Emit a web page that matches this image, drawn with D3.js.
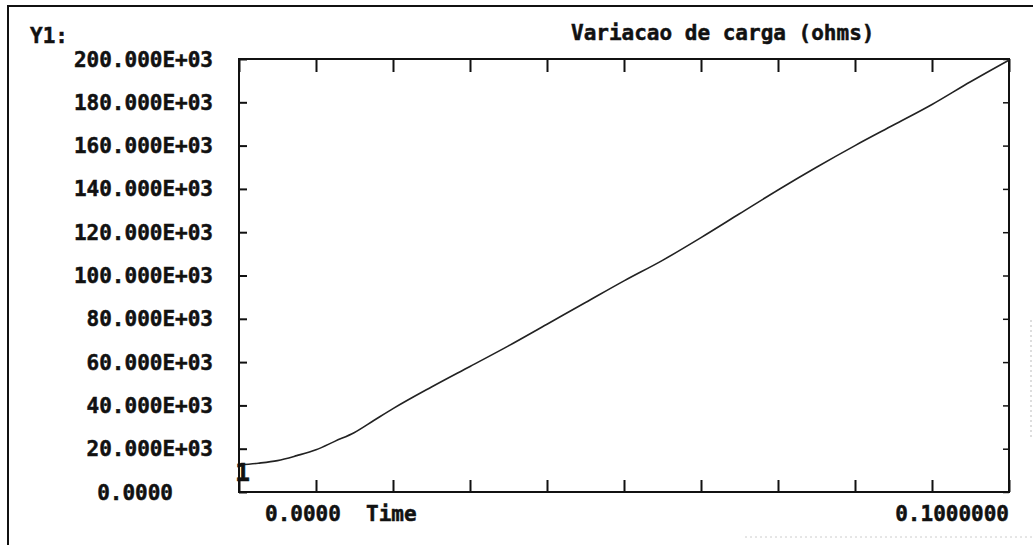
<!DOCTYPE html>
<html>
<head>
<meta charset="utf-8">
<script src="https://cdn.jsdelivr.net/npm/d3@7"></script>
<style>
  html, body { margin: 0; padding: 0; background: #fff; }
  svg { display: block; }
  text { font-family: "DejaVu Sans Mono", "Liberation Mono", monospace; font-weight: bold;
         fill: #111; stroke: #111; stroke-width: 0.5px; }
</style>
</head>
<body>
<svg id="chart" width="1033" height="545"></svg>
<script>
// Load resistance (ohms) against time (s)
const times = [0, 0.0025, 0.005, 0.0075, 0.01, 0.0125, 0.015, 0.0175, 0.02,
  0.025, 0.03, 0.035, 0.04, 0.045, 0.05, 0.055, 0.06, 0.065, 0.07, 0.075,
  0.08, 0.085, 0.09, 0.095, 0.1];
const ohms = [12500, 13300, 14500, 16800, 19500, 23500, 27500, 33000, 38500,
  48500, 58000, 67500, 77500, 87500, 97500, 107000, 117500, 128500, 139500, 150000,
  160000, 169500, 179000, 189500, 199500];

const yTicks = [0, 20000, 40000, 60000, 80000, 100000, 120000, 140000, 160000, 180000, 200000];
const yTickLabels = ["0.0000", "20.000E+03", "40.000E+03", "60.000E+03", "80.000E+03",
  "100.000E+03", "120.000E+03", "140.000E+03", "160.000E+03", "180.000E+03", "200.000E+03"];
const xTicks = [0, 0.01, 0.02, 0.03, 0.04, 0.05, 0.06, 0.07, 0.08, 0.09, 0.1];
const xEndLabels = ["0.0000", "0.1000000"];
const title = "Variacao de carga (ohms)";
const yName = "Y1:";
const xName = "Time";
const traceTag = "1";

const svg = d3.select("#chart");
const W = 1033, H = 545;
const plot = { left: 239, right: 1009, top: 59, bottom: 492 };

const x = d3.scaleLinear().domain([0, 0.1]).range([plot.left, plot.right]);
const y = d3.scaleLinear().domain([0, 200000]).range([plot.bottom, plot.top]);

// page frame (left and top edges)
svg.append("path")
  .attr("d", `M8,${H} L8,6 L${W},6`)
  .attr("fill", "none").attr("stroke", "#111").attr("stroke-width", 2);
// faint right/bottom edges
svg.append("line").attr("x1", 1031).attr("x2", 1031).attr("y1", 320).attr("y2", 440)
  .attr("stroke", "#bbb").attr("stroke-width", 1).attr("stroke-dasharray", "2,3");
svg.append("line").attr("x1", 745).attr("x2", W).attr("y1", 537).attr("y2", 537)
  .attr("stroke", "#ccc").attr("stroke-width", 1).attr("stroke-dasharray", "2,3");

// axes with inward ticks on all four sides
const axisStyle = g => {
  g.select(".domain").remove();
  g.selectAll(".tick line").attr("stroke", "#111").attr("stroke-width", 2);
  g.selectAll(".tick text").remove();
};
svg.append("g").attr("transform", `translate(0,${plot.top})`)
  .call(d3.axisBottom(x).tickValues(xTicks).tickSize(13)).call(axisStyle);
svg.append("g").attr("transform", `translate(0,${plot.bottom})`)
  .call(d3.axisTop(x).tickValues(xTicks).tickSize(12)).call(axisStyle);
svg.append("g").attr("transform", `translate(${plot.left},0)`)
  .call(d3.axisRight(y).tickValues(yTicks).tickSize(8)).call(axisStyle);
svg.append("g").attr("transform", `translate(${plot.right},0)`)
  .call(d3.axisLeft(y).tickValues(yTicks).tickSize(6)).call(axisStyle)
  .selectAll(".tick line").attr("stroke-width", 1.5);

// plot frame
svg.append("rect")
  .attr("x", plot.left).attr("y", plot.top)
  .attr("width", plot.right - plot.left).attr("height", plot.bottom - plot.top)
  .attr("fill", "none").attr("stroke", "#111").attr("stroke-width", 2);

// y tick labels
svg.append("g").selectAll("text").data(yTicks).join("text")
  .attr("x", d => d === 0 ? 173 : 213)
  .attr("y", d => y(d))
  .attr("dy", "0.36em")
  .attr("text-anchor", "end")
  .attr("font-size", 21)
  .text((d, i) => yTickLabels[i]);

svg.append("text").attr("x", 30).attr("y", 43).attr("font-size", 21).text(yName);
svg.append("text").attr("x", 571).attr("y", 40).attr("font-size", 21).text(title);

// x labels
svg.append("text").attr("x", 265).attr("y", 521).attr("font-size", 21).text(xEndLabels[0]);
svg.append("text").attr("x", 366).attr("y", 521).attr("font-size", 21).text(xName);
svg.append("text").attr("x", 1009).attr("y", 521).attr("text-anchor", "end")
  .attr("font-size", 21).text(xEndLabels[1]);

// trace
const line = d3.line().x((d, i) => x(times[i])).y(d => y(d)).curve(d3.curveMonotoneX);
svg.append("path")
  .datum(ohms)
  .attr("d", line)
  .attr("fill", "none")
  .attr("stroke", "#222")
  .attr("stroke-width", 1.6);

// trace tag at the start of the curve
svg.append("text").attr("x", 235).attr("y", 481).attr("font-size", 25).text(traceTag);
</script>
</body>
</html>
